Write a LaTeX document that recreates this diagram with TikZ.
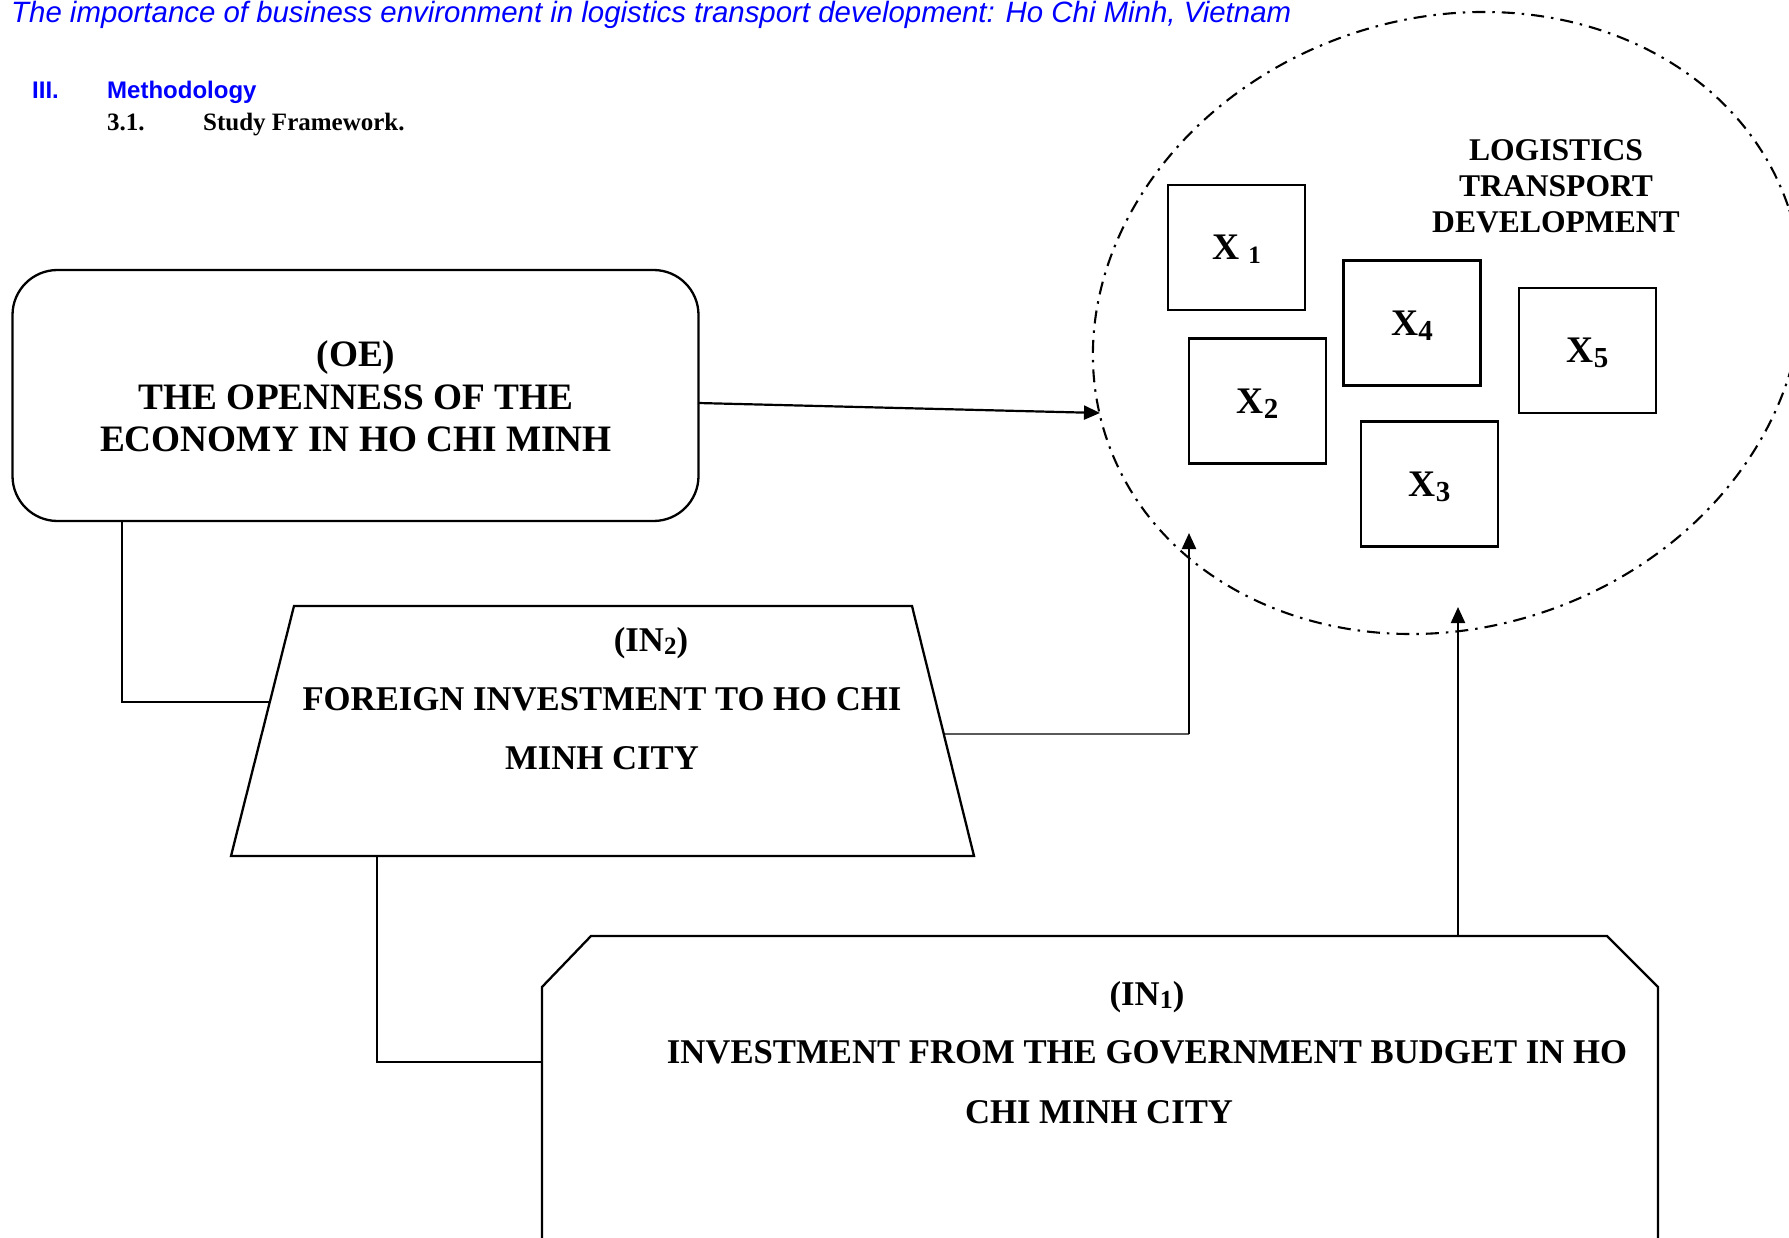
\documentclass[tikz,border=0pt]{standalone}
\usepackage{fontspec}
\setmainfont{Liberation Serif}
\newfontfamily\hdrsans{Liberation Sans}
\usetikzlibrary{arrows.meta,calc}
\definecolor{hdrblue}{RGB}{0,0,255}
\newcommand{\fsz}[1]{\fontsize{#1pt}{#1pt}\selectfont}
\newcommand{\dsub}[3]{\smash{\raisebox{-#2pt}{\fsz{#1}#3}}}
\begin{document}
\begin{tikzpicture}[x=1pt,y=-1pt,
  shapeline/.style={draw=black,line width=2.3pt},
  xbox/.style={draw=black,line width=2.3pt,minimum width=137pt,minimum height=125pt,inner sep=0pt,font=\bfseries\fsz{37.5}},
  linkline/.style={draw=black,line width=1.3pt},
  arrowline/.style={draw=black,line width=2.2pt,-{Triangle[length=16pt,width=14pt]}},
  txt/.style={anchor=base,inner sep=0pt},
  oetxt/.style={txt,font=\bfseries\fsz{37.3}},
  intxt/.style={txt,font=\bfseries\fsz{34.7}},
  ltdtxt/.style={txt,font=\bfseries\fsz{31.6}},
  dashring/.style={draw=black,line width=2.1pt,dash pattern=on 13pt off 7pt on 2.5pt off 7pt},
  hdrtxt/.style={anchor=base west,inner sep=0pt}
]
\useasboundingbox (0,0) rectangle (1789,1238);
\begin{scope}
\clip (0,0) rectangle (1789,1238);

% header
\node[hdrtxt,text=hdrblue,font=\hdrsans\itshape\fsz{29.4}] (title) at (11,23) {The importance of business environment in logistics transport development: Ho Chi Minh, Vietnam};
\node[hdrtxt,text=hdrblue,font=\hdrsans\bfseries\fsz{24}] (secnum) at (32,99) {III.};
\node[hdrtxt,text=hdrblue,font=\hdrsans\bfseries\fsz{24}] (sectitle) at (107,99) {Methodology};
\node[hdrtxt,font=\bfseries\fsz{25}] (subnum) at (107,131) {3.1.};
\node[hdrtxt,font=\bfseries\fsz{25}] (subtitle) at (203,131) {Study Framework.};

% OE box
\node[shapeline,rounded corners=45pt,minimum width=686pt,minimum height=251pt,inner sep=0pt] (oe) at (355.5,395.5) {};
\node[oetxt] (oea) at (356,367) {(OE)};
\node[oetxt] (oeb) at (356,410) {THE OPENNESS OF THE};
\node[oetxt] (oec) at (356,452) {ECONOMY IN HO CHI MINH};

% IN2 trapezoid
\coordinate (tzTL) at (294,606);
\coordinate (tzTR) at (912,606);
\coordinate (tzBR) at (974,856);
\coordinate (tzBL) at (231,856);
\draw[shapeline] (tzTL) -- (tzTR) -- (tzBR) -- (tzBL) -- cycle;
\node[intxt] (in2a) at (651,651) {(IN\dsub{25}{3}{2})};
\node[intxt] (in2b) at (602,710) {FOREIGN INVESTMENT TO HO CHI};
\node[intxt] (in2c) at (602,769) {MINH CITY};

% IN1 shape
\coordinate (ocBL) at (542,1270);
\coordinate (ocML) at (542,987);
\coordinate (ocTL) at (591,936);
\coordinate (ocTR) at (1607,936);
\coordinate (ocMR) at (1658,987);
\coordinate (ocBR) at (1658,1270);
\draw[shapeline] (ocBL) -- (ocML) -- (ocTL) -- (ocTR) -- (ocMR) -- (ocBR);
\node[intxt] (in1a) at (1147,1005) {(IN\dsub{26}{3}{1})};
\node[intxt] (in1b) at (1147,1063) {INVESTMENT FROM THE GOVERNMENT BUDGET IN HO};
\node[intxt] (in1c) at (1099,1123) {CHI MINH CITY};

% ellipse
\coordinate (ringc) at (1447.5,323);
\draw[dashring,rotate around={19:(ringc)}] (ringc) ellipse [x radius=360pt,y radius=304.6pt];
\node[ltdtxt] (lta) at (1556,161) {LOGISTICS};
\node[ltdtxt] (ltb) at (1556,197) {TRANSPORT};
\node[ltdtxt] (ltc) at (1556,233) {DEVELOPMENT};

% X boxes
\node[xbox] (xa) at (1236.5,247.5) {X \dsub{25}{4}{1}};
\node[xbox] (xd) at (1412,323) {X\dsub{29}{5}{4}};
\node[xbox] (xb) at (1257.5,401) {X\dsub{29}{5}{2}};
\node[xbox] (xe) at (1587.5,350.5) {X\dsub{29}{5}{5}};
\node[xbox] (xc) at (1429.5,484) {X\dsub{29}{5}{3}};

% connectors
\coordinate (oeout) at (698,403);
\coordinate (tipoe) at (1100,413);
\draw[arrowline] (oeout) -- (tipoe);

\coordinate (oedown) at (122,521);
\coordinate (tzleft) at ($(tzTL)!0.384!(tzBL)$);
\draw[linkline] (oedown) |- (tzleft);

\coordinate (tzright) at ($(tzTR)!0.512!(tzBR)$);
\coordinate (bendin2) at (1189,734);
\coordinate (tipin2) at (1189,533);
\draw[linkline] (tzright) -- (bendin2);
\draw[arrowline] (bendin2) -- (tipin2);

\coordinate (tzbot) at (377,856);
\coordinate (ocleft) at (542,1062);
\draw[linkline] (tzbot) |- (ocleft);

\coordinate (octop) at (1458,936);
\coordinate (tipin1) at (1458,607);
\draw[arrowline] (octop) -- (tipin1);
\end{scope}
\end{tikzpicture}
\end{document}
